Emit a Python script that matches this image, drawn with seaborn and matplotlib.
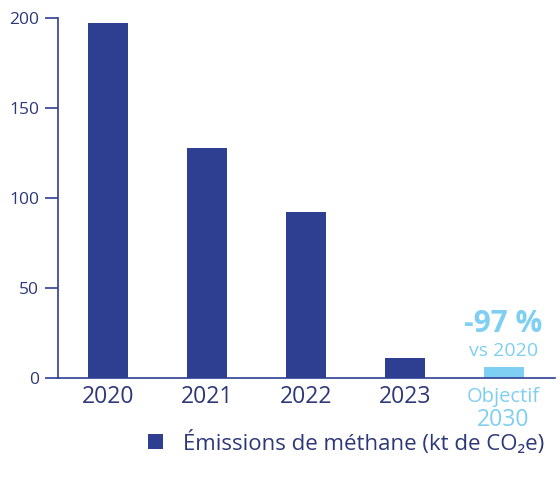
import matplotlib
matplotlib.use("Agg")
import matplotlib.pyplot as plt
from matplotlib.patches import Patch
import seaborn as sns
import pandas as pd

# data
years = ["2020", "2021", "2022", "2023", "2030"]
emissions = [197, 128, 92, 11, 6]
tick_labels = ["2020", "2021", "2022", "2023", ""]
y_ticks = [0, 50, 100, 150, 200]

navy = "#2E3F91"
sky = "#7FCFF2"
text_navy = "#2E3878"

sns.set_theme(style="white")
plt.rcParams["font.family"] = ["Open Sans", "DejaVu Sans"]

df = pd.DataFrame({"year": years, "value": emissions})

fig = plt.figure(figsize=(5.59, 4.8), dpi=100)
ax = fig.add_axes([0.1038, 0.2125, 0.889, 0.75])

sns.barplot(data=df, x="year", y="value", hue="year",
            palette=[navy, navy, navy, navy, sky], width=0.404,
            legend=False, ax=ax, saturation=1, linewidth=0)

ax.set_xlim(-0.505, 4.52)
ax.set_ylim(0, 200)
ax.set_yticks(y_ticks)
ax.set_xticks(range(len(years)))
ax.set_xticklabels(tick_labels, fontsize=16.5, color=text_navy)
ax.set_xlabel("")
ax.set_ylabel("")

for s in ["top", "right"]:
    ax.spines[s].set_visible(False)
for s in ["left", "bottom"]:
    ax.spines[s].set_color(navy)
    ax.spines[s].set_linewidth(1.2)

ax.tick_params(axis="y", length=9.5, width=1.2, color=navy, labelsize=12.5,
               labelcolor=text_navy, pad=4, left=True)
ax.tick_params(axis="x", length=0, pad=5)

# annotations for the 2030 target
ax.text(4, 25.5, "-97 %", ha="center", va="baseline", fontsize=21.5,
        fontweight="bold", color=sky)
ax.text(4, 12.5, "vs 2020", ha="center", va="baseline", fontsize=14, color=sky)
ax.text(4, -13.5, "Objectif", ha="center", va="baseline", fontsize=14.5,
        color=sky, clip_on=False)
ax.text(4, -26.5, "2030", ha="center", va="baseline", fontsize=16.5,
        color=sky, clip_on=False)

handle = Patch(facecolor=navy, edgecolor="none")
fig.legend([handle], ["Émissions de méthane (kt de CO₂e)"],
           loc="center left", bbox_to_anchor=(0.245, 0.078), frameon=False,
           fontsize=16, labelcolor=text_navy, handlelength=0.65,
           handleheight=0.65, handletextpad=0.9, borderpad=0)

fig.savefig("out.png", dpi=100)
